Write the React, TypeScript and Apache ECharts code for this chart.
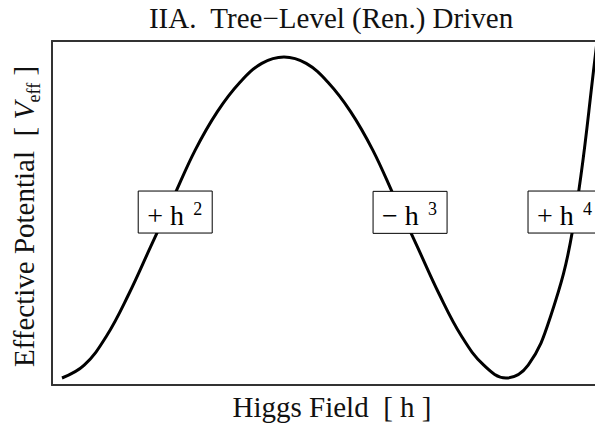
import React, { useEffect, useRef } from 'react';
import * as echarts from 'echarts';

// Higgs field values (h) and effective potential (normalised)
const fieldH = [0, 0.05, 0.1, 0.15, 0.2, 0.25, 0.3, 0.35, 0.4, 0.45, 0.5, 0.55, 0.6, 0.65, 0.7, 0.75, 0.8, 0.85, 0.9, 0.95, 1.0, 1.05, 1.1, 1.15, 1.2, 1.25];
const potentialV = [0, 0.04, 0.13, 0.26, 0.41, 0.56, 0.71, 0.83, 0.92, 0.98, 1.0, 0.98, 0.92, 0.83, 0.71, 0.56, 0.41, 0.26, 0.13, 0.04, 0, 0.04, 0.19, 0.46, 0.99, 1.6];

// term annotations (anchored in data coordinates)
const termSigns = ['+', '\u2212', '+'];
const termPowers = ['2', '3', '4'];
const termH = [0.255, 0.784, 1.133];
const termV = [0.517, 0.516, 0.517];

const titleText = 'IIA.  Tree\u2212Level (Ren.) Driven';
const xAxisName = 'Higgs Field  [ h ]';
const yNameParts = ['Effective Potential', '[', 'V', 'eff', ']'];

const FAMILY = 'Liberation Serif';
const SERIF = '"Liberation Serif", "DejaVu Serif", serif';
const INK = '#111';

function measure(text: string, size: number, italic: boolean): number {
  const c = document.createElement('canvas').getContext('2d');
  if (!c) return text.length * size * 0.5;
  c.font = `${italic ? 'italic ' : ''}${size}px "${FAMILY}", serif`;
  return c.measureText(text).width;
}

export default function App() {
  const ref = useRef<HTMLDivElement>(null);
  useEffect(() => {
    if (!ref.current) return;
    const chart = echarts.init(ref.current, undefined, { renderer: 'svg' });
    const curve = fieldH.map((h, i) => [h, potentialV[i]]);
    const hiddenAxis = {
      axisTick: { show: false }, axisLabel: { show: false }, splitLine: { show: false },
    };
    const frameLine = { show: true, onZero: false, lineStyle: { color: '#333', width: 2 } };
    chart.setOption({
      animation: false,
      grid: { left: 52, top: 41, right: 0, bottom: 39 },
      xAxis: [
        { type: 'value', min: -0.0225, max: 1.2005, position: 'bottom', axisLine: frameLine, ...hiddenAxis },
        { type: 'value', min: -0.0225, max: 1.2005, position: 'top', axisLine: frameLine, ...hiddenAxis },
      ],
      yAxis: { type: 'value', min: -0.0218, max: 1.0498, position: 'left', axisLine: frameLine, ...hiddenAxis },
      series: [
        {
          type: 'line', data: curve, smooth: 0.4, symbol: 'none', z: 2, xAxisIndex: 0,
          lineStyle: { color: '#000', width: 3 },
        },
      ],
    });

    const boxes: any[] = [];
    termH.forEach((h, i) => {
      const [cx, cy] = chart.convertToPixel({ gridIndex: 0 }, [h, termV[i]]) as number[];
      boxes.push({
        type: 'group', z: 100,
        children: [
          {
            type: 'rect', z: 100,
            shape: { x: cx - 37, y: cy - 21, width: 74, height: 42 },
            style: { fill: '#fff', stroke: '#000', lineWidth: 1 },
          },
          {
            type: 'text', z: 101, x: cx - 28, y: cy + 3,
            style: { text: `${termSigns[i]} h`, fontFamily: SERIF, fontSize: 28, fill: '#000', align: 'left', verticalAlign: 'middle' },
          },
          {
            type: 'text', z: 101, x: cx + 18, y: cy - 3.5,
            style: { text: termPowers[i], fontFamily: SERIF, fontSize: 18, fill: '#000', align: 'left', verticalAlign: 'middle' },
          },
        ],
      });
    });

    // y-axis name laid out piece by piece inside a rotated group
    const specs = [
      { size: 29, italic: false, dy: 0, gap: 0 },
      { size: 29, italic: false, dy: 0, gap: 0.5 },
      { size: 29, italic: true, dy: 0, gap: 0.25 },
      { size: 18, italic: false, dy: 9.5, gap: -0.02 },
      { size: 29, italic: false, dy: 0, gap: 0.25 },
    ];
    const widths = yNameParts.map((t, i) => measure(t, specs[i].size, specs[i].italic));
    const total = widths.reduce((s, w, i) => s + w + specs[i].gap * 29, 0);
    let cursor = -total / 2;
    const yNameChildren = yNameParts.map((t, i) => {
      cursor += specs[i].gap * 29;
      const el = {
        type: 'text', x: cursor, y: specs[i].dy,
        style: {
          text: t, fontFamily: SERIF, fontSize: specs[i].size, fontStyle: specs[i].italic ? 'italic' : 'normal',
          fill: INK, align: 'left', verticalAlign: 'middle',
        },
      };
      cursor += widths[i];
      return el;
    });

    chart.setOption({
      graphic: [
        {
          type: 'text', x: 331, y: 18,
          style: { text: titleText, fontFamily: SERIF, fontSize: 29, fill: INK, align: 'center', verticalAlign: 'middle' },
        },
        {
          type: 'text', x: 332, y: 407,
          style: { text: xAxisName, fontFamily: SERIF, fontSize: 29, fill: INK, align: 'center', verticalAlign: 'middle' },
        },
        { type: 'group', x: 24, y: 216.5, rotation: Math.PI / 2, children: yNameChildren },
        ...boxes,
      ],
    });
    return () => chart.dispose();
  }, []);
  return <div ref={ref} style={{ position: 'absolute', left: 0, top: 0, width: 595, height: 424 }} />;
}
